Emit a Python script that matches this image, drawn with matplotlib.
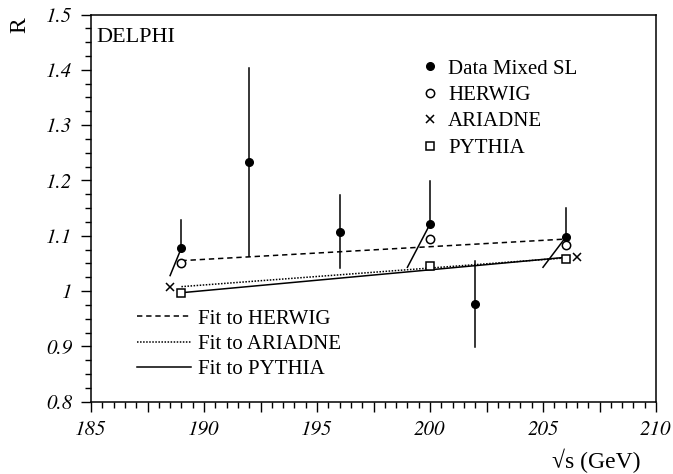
import numpy as np
import matplotlib
matplotlib.use("Agg")
import matplotlib.pyplot as plt
from matplotlib.ticker import MultipleLocator, FuncFormatter

plt.rcParams['font.family'] = ['Liberation Serif', 'DejaVu Serif']
plt.rcParams['font.style'] = 'italic'   # tick labels are italic in the original

# data
data_x = [189, 192, 196, 200, 202, 206]
data_y = [1.078, 1.234, 1.107, 1.121, 0.977, 1.097]
data_err = [0.050, 0.170, 0.066, 0.078, 0.078, 0.054]
# lower half of some error bars is drawn slanted, shifted in x by this much
low_shift = [-0.5, 0, 0, -1.0, 0, -1.0]

herwig_x = [189, 200, 206]
herwig_y = [1.051, 1.095, 1.083]
ariadne_x = [188.5, 206.5]
ariadne_y = [1.007, 1.061]
pythia_x = [189, 200, 206]
pythia_y = [0.997, 1.045, 1.058]

fit_x = [189, 206]
fit_herwig = [1.055, 1.094]
fit_ariadne = [1.008, 1.060]
fit_pythia = [0.997, 1.061]

fig = plt.figure(figsize=(6.73, 4.74), dpi=100)
ax = fig.add_axes([91/673, 1-401.7/474, 565/673, 387.2/474])

lw = 1.1
# fits
l1, = ax.plot(fit_x, fit_herwig, color='k', ls=(0, (3.5, 2.5)), lw=lw, label='Fit to HERWIG')
l2, = ax.plot(fit_x, fit_ariadne, color='k', ls=(0, (1, 1)), lw=lw, label='Fit to ARIADNE')
l3, = ax.plot(fit_x, fit_pythia, color='k', ls='-', lw=lw, label='Fit to PYTHIA')

# error bars
for x, y, e, s in zip(data_x, data_y, data_err, low_shift):
    ax.plot([x, x], [y, y + e], color='k', lw=lw)
    ax.plot([x + s, x], [y - e, y], color='k', lw=lw)

m1, = ax.plot(data_x, data_y, 'o', color='k', ms=5.5, ls='none', label='Data Mixed SL')
m2, = ax.plot(herwig_x, herwig_y, 'o', mfc='white', mec='k', mew=1.1, ms=6, ls='none', label='HERWIG')
m3, = ax.plot(ariadne_x, ariadne_y, 'x', color='k', mew=1.1, ms=5.5, ls='none', label='ARIADNE')
m4, = ax.plot(pythia_x, pythia_y, 's', mfc='white', mec='k', mew=1.1, ms=6, ls='none', label='PYTHIA')

ax.set_xlim(185, 210)
ax.set_ylim(0.8, 1.5)

ax.xaxis.set_major_locator(MultipleLocator(2.5))
ax.xaxis.set_minor_locator(MultipleLocator(0.5))
ax.xaxis.set_major_formatter(FuncFormatter(lambda v, p: '%d' % v if abs(v % 5) < 1e-6 else ''))
ax.yaxis.set_major_locator(MultipleLocator(0.1))
ax.yaxis.set_minor_locator(MultipleLocator(0.025))
ax.yaxis.set_major_formatter(FuncFormatter(lambda v, p: '1' if abs(v - 1) < 1e-6 else '%.1f' % v))

# STIX ships with matplotlib and has a real italic face
ax.tick_params(which='major', direction='out', length=7.5, width=1, labelsize=15,
               labelfontfamily='STIXGeneral')
ax.tick_params(which='minor', direction='out', length=4, width=1)
ax.tick_params(axis='x', pad=6)
ax.tick_params(axis='y', pad=6)
for sp in ax.spines.values():
    sp.set_linewidth(1.1)

ax.text(96/673, 1-37/474, 'DELPHI', transform=fig.transFigure, fontsize=16,
        style='normal', va='center', ha='left')
fig.text(641/673, 1-461/474, '√s (GeV)', fontsize=17, style='normal', ha='right', va='center')
fig.text(20/673, 1-25/474, 'R', fontsize=17, style='normal', rotation=90, ha='center', va='center')

prop = {'family': ['Liberation Serif', 'DejaVu Serif'], 'style': 'normal', 'size': 15}
leg1 = ax.legend(handles=[m1, m2, m3, m4], loc='upper left', bbox_to_anchor=(420/673, 1-59/474),
                 bbox_transform=fig.transFigure, frameon=False, prop=prop, borderpad=0,
                 borderaxespad=0, handlelength=1.0, handletextpad=0.35, labelspacing=0.33)
ax.add_artist(leg1)
ax.legend(handles=[l1, l2, l3], loc='upper left', bbox_to_anchor=(137/673, 1-309/474),
          bbox_transform=fig.transFigure, frameon=False, prop=prop, borderpad=0,
          borderaxespad=0, handlelength=2.6, handletextpad=0.35, labelspacing=0.28)

fig.savefig('out.png', dpi=100)
